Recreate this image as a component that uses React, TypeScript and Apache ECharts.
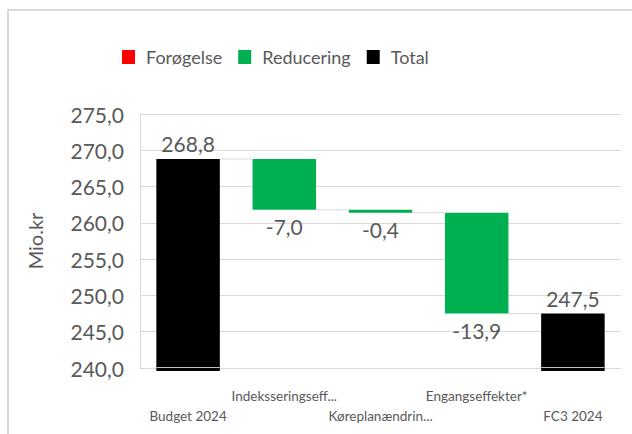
import React, { useEffect, useRef } from "react";
import * as echarts from "echarts";

const categories = ["Budget 2024", "Indeksseringseff...", "Køreplanændrin...", "Engangseffekter*", "FC3 2024"];
const startTotal = 268.8;
const changes = [-7.0, -0.4, -13.9];
const endTotal = 247.5;
const legendNames = ["Forøgelse", "Reducering", "Total"];
const yTicks = { min: 240, max: 275, interval: 5 };

const FONT = "Lato, 'Open Sans', sans-serif";
const TEXT = "#595959";
const GRID = "#D9D9D9";
const fmt = (v: number) => v.toFixed(1).replace(".", ",");

export default function App() {
  const ref = useRef<HTMLDivElement>(null);
  useEffect(() => {
    if (!ref.current) return;
    const chart = echarts.init(ref.current, null, { renderer: "svg" });

    const n = categories.length;
    const levels: number[] = [startTotal];
    let cur = startTotal;
    changes.forEach((c) => {
      cur = +(cur + c).toFixed(1);
      levels.push(cur);
    });
    levels.push(endTotal);

    const base: any[] = [];
    const inc: any[] = [];
    const dec: any[] = [];
    const tot: any[] = [];
    for (let i = 0; i < n; i++) {
      if (i === 0) {
        base.push("-"); inc.push("-"); dec.push("-"); tot.push(startTotal);
      } else if (i === n - 1) {
        base.push("-"); inc.push("-"); dec.push("-"); tot.push(endTotal);
      } else {
        const c = changes[i - 1];
        const prev = levels[i - 1];
        const next = levels[i];
        if (c < 0) {
          base.push(next); dec.push(-c); inc.push("-");
        } else {
          base.push(prev); inc.push(c); dec.push("-");
        }
        tot.push("-");
      }
    }

    const connectorData = levels.slice(0, n - 1).map((v, i) => [i, v]);
    const extData = [0, n - 1].map((i) => [i, yTicks.min]);
    const BAR = 0.66;

    chart.setOption({
      animation: false,
      graphic: [
        {
          type: "rect",
          shape: { x: 8, y: 10, width: 700, height: 500 },
          style: { fill: "none", stroke: GRID, lineWidth: 2 },
          silent: true,
        },
      ],
      legend: {
        data: legendNames,
        left: 117,
        top: 43,
        itemWidth: 13,
        itemHeight: 14,
        itemGap: 16,
        icon: "rect",
        textStyle: { color: TEXT, fontSize: 18, fontFamily: FONT, padding: [0, 0, 0, 6] },
      },
      grid: { left: 140, right: 11, top: 114, bottom: 66, containLabel: false },
      xAxis: {
        type: "category",
        data: categories,
        axisLine: { show: true, lineStyle: { color: GRID } },
        axisTick: { show: false },
        axisLabel: {
          interval: 0,
          color: TEXT,
          fontSize: 13.5,
          fontFamily: FONT,
          lineHeight: 20,
          margin: 18,
          formatter: (v: string, i: number) => (i % 2 === 0 ? "\n" + v : v),
        },
      },
      yAxis: {
        type: "value",
        min: yTicks.min,
        max: yTicks.max,
        interval: yTicks.interval,
        name: "Mio.kr",
        nameLocation: "middle",
        nameGap: 95,
        nameTextStyle: { color: TEXT, fontSize: 20, fontFamily: FONT },
        axisLine: { show: true, lineStyle: { color: GRID } },
        axisTick: { show: false },
        splitLine: { lineStyle: { color: GRID } },
        axisLabel: {
          color: TEXT,
          fontSize: 21,
          fontFamily: FONT,
          margin: 16,
          formatter: (v: number) => fmt(v),
        },
      },
      series: [
        {
          name: "base",
          type: "bar",
          stack: "w",
          barWidth: "66%",
          itemStyle: { color: "transparent" },
          data: base,
          silent: true,
        },
        {
          name: "Forøgelse",
          type: "bar",
          stack: "w",
          itemStyle: { color: "#FF0000" },
          data: inc,
          label: {
            show: true,
            position: "top",
            distance: 6,
            color: TEXT,
            fontSize: 21,
            fontFamily: FONT,
            formatter: (p: any) => fmt(p.value),
          },
        },
        {
          name: "Reducering",
          type: "bar",
          stack: "w",
          itemStyle: { color: "#00B050" },
          data: dec,
          label: {
            show: true,
            position: "bottom",
            distance: 6,
            color: TEXT,
            fontSize: 21,
            fontFamily: FONT,
            formatter: (p: any) => "-" + fmt(p.value),
          },
        },
        {
          name: "Total",
          type: "bar",
          stack: "w",
          itemStyle: { color: "#000000" },
          data: tot,
          label: {
            show: true,
            position: "top",
            distance: 5,
            color: TEXT,
            fontSize: 21,
            fontFamily: FONT,
            formatter: (p: any) => fmt(p.value),
          },
        },
        {
          name: "connectors",
          type: "custom",
          z: 3,
          silent: true,
          data: connectorData,
          renderItem: (params: any, api: any) => {
            const p = api.coord([api.value(0), api.value(1)]);
            const bw = api.size([1, 0])[0];
            const half = (bw * BAR) / 2;
            return {
              type: "line",
              shape: { x1: p[0] + half, y1: p[1], x2: p[0] + bw - half, y2: p[1] },
              style: { stroke: GRID, lineWidth: 1 },
            };
          },
        },
        {
          name: "ext",
          type: "custom",
          z: 3,
          silent: true,
          clip: false,
          data: extData,
          renderItem: (params: any, api: any) => {
            const p = api.coord([api.value(0), api.value(1)]);
            const bw = api.size([1, 0])[0];
            const half = (bw * BAR) / 2;
            return {
              type: "group",
              children: [
                {
                  type: "rect",
                  shape: { x: p[0] - half, y: p[1] - 1, width: half * 2, height: 4 },
                  style: { fill: "#000000" },
                },
                {
                  type: "line",
                  shape: { x1: p[0] - half, y1: p[1] - 0.5, x2: p[0] + half, y2: p[1] - 0.5 },
                  style: { stroke: "#BFBFBF", lineWidth: 1 },
                },
              ],
            };
          },
        },
      ],
    });
    return () => chart.dispose();
  }, []);

  return (
    <div
      ref={ref}
      style={{ position: "fixed", left: 0, top: 0, width: 632, height: 434, background: "#fff" }}
    />
  );
}
